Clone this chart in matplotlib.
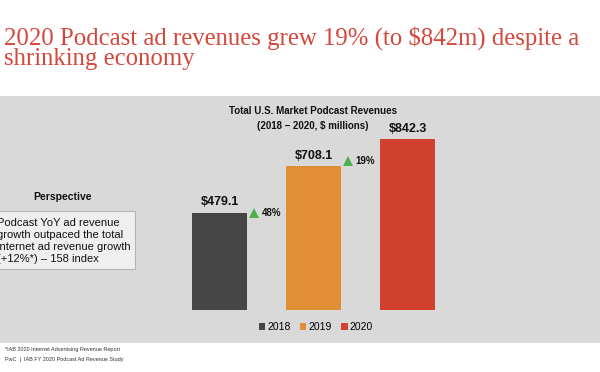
import matplotlib
matplotlib.use("Agg")
import matplotlib.pyplot as plt
from matplotlib.patches import Rectangle

years = ["2018", "2019", "2020"]
revenues = [479.1, 708.1, 842.3]
growth_labels = ["48%", "19%"]
bar_colors = ["#464646", "#e08f35", "#d1412d"]

W, H = 600, 372
fig = plt.figure(figsize=(6, 3.72), dpi=100)
fig.patch.set_facecolor("white")

def fx(px):
    return px / W

def fy(py):
    return 1 - py / H

# grey panel (background axes)
bg = fig.add_axes([0, fy(343), 1, fy(96) - fy(343)])
bg.set_zorder(0)
bg.set_facecolor("#d9d9d9")
bg.set_xticks([]); bg.set_yticks([])
for s in bg.spines.values():
    s.set_visible(False)

# title
title_kw = dict(color="#d4473a", fontsize=17.8, family="Liberation Serif", va="center", ha="left")
fig.text(fx(4), fy(38), "2020 Podcast ad revenues grew 19% (to $842m) despite a", **title_kw)
fig.text(fx(4), fy(59), "shrinking economy", **title_kw)

ax = fig.add_axes([0, 0, 1, 1])
ax.set_zorder(2)
ax.set_facecolor("none")
ax.axis("off")
scale = 0.2033
ax.set_xlim(-219.8 / 94, (W - 219.8) / 94)
ax.set_ylim(-(H - 310) / scale, 310 / scale)

xs = list(range(len(years)))
bars = ax.bar(xs, revenues, width=55 / 94, color=bar_colors, zorder=2)
for x, v in zip(xs, revenues):
    ax.annotate(f"${v:.1f}", (x, v), xytext=(0, 3), textcoords="offset points",
                ha="center", va="bottom", fontsize=9, fontweight="bold",
                family="Liberation Sans", color="#111111")

for i, g in enumerate(growth_labels):
    xm = i + 0.5
    y = revenues[i] + (0 if i == 0 else 24)
    ax.plot([xm - 0.135], [y], marker="^", color="#4caf50", markersize=7, zorder=3,
            markeredgewidth=0)
    ax.text(xm - 0.055, y, g, ha="left", va="center", fontsize=7, fontweight="bold",
            family="Liberation Sans", color="#111111")

# chart title
fig.text(fx(313), fy(111), "Total U.S. Market Podcast Revenues", ha="center", va="center",
         fontsize=7, fontweight="bold", family="Liberation Sans", color="#111111")
fig.text(fx(313), fy(126), "(2018 \u2013 2020, $ millions)", ha="center", va="center",
         fontsize=7, fontweight="bold", family="Liberation Sans", color="#111111")

# legend
leg = fig.legend(bars, years, loc="center", bbox_to_anchor=(fx(316), fy(327)), ncol=3,
                 frameon=False, handlelength=0.6, handleheight=0.6, handletextpad=0.2,
                 columnspacing=0.9, prop={"family": "Liberation Sans", "size": 7.5})

# perspective
fig.text(fx(63), fy(197), "Perspective", ha="center", va="center", fontsize=7.5,
         fontweight="bold", family="Liberation Sans", color="#111111")
box = Rectangle((fx(-5), fy(269)), fx(140), fy(211) - fy(269), transform=fig.transFigure,
                facecolor="#efefef", edgecolor="#b5b5b5", linewidth=0.8, zorder=1)
fig.add_artist(box)
fig.text(fx(-3), fy(241), "Podcast YoY ad revenue\ngrowth outpaced the total\ninternet ad revenue growth\n(+12%*) \u2013 158 index",
         ha="left", va="center", fontsize=8, family="Liberation Sans", color="#111111",
         linespacing=1.25, zorder=3)

# footnotes
fig.text(fx(5), fy(350), "*IAB 2020 Internet Advertising Revenue Report", ha="left", va="center",
         fontsize=4, family="Liberation Sans", color="#333333")
fig.text(fx(5), fy(360), "PwC  |  IAB FY 2020 Podcast Ad Revenue Study", ha="left", va="center",
         fontsize=4, family="Liberation Sans", color="#333333")

fig.savefig("out.png", dpi=100)
